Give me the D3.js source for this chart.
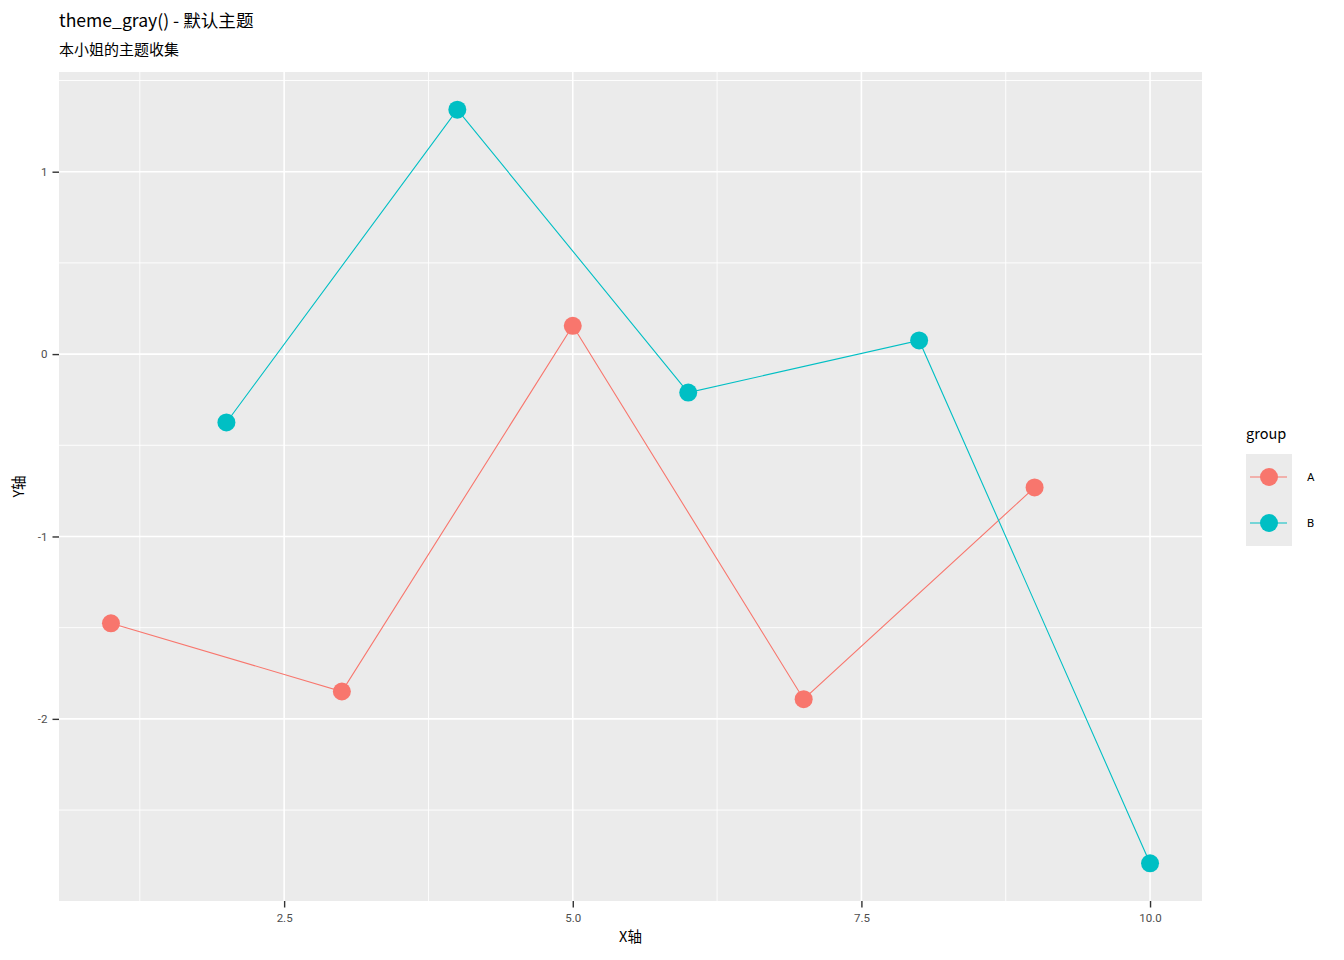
<!DOCTYPE html>
<html><head><meta charset="utf-8">
<script src="https://cdn.jsdelivr.net/npm/d3@7"></script>
<style>body{margin:0;background:#fff}text{font-family:"Noto Sans CJK SC","Noto Sans",sans-serif}</style>
</head><body><svg id="c" width="1344" height="960"></svg>
<script>
const groups = ["A","B"];
const colors = ["#F8766D","#00BFC4"];
const xA = [1,3,5,7,9];
const yA = [-1.476,-1.850,0.155,-1.892,-0.731];
const xB = [2,4,6,8,10];
const yB = [-0.375,1.340,-0.211,0.075,-2.792];
const xTicks = [2.5,5.0,7.5,10.0];
const yTicks = [-2,-1,0,1];
const title = "theme_gray() - 默认主题";
const subtitle = "本小姐的主题收集";
const xLabel = "X轴", yLabel = "Y轴", legendTitle = "group";

const svg = d3.select("#c");
const L=59,R=1202,T=72,B=901;
const allX = xA.concat(xB), allY = yA.concat(yB);
const xe = d3.extent(allX), ye = d3.extent(allY);
const xp = (xe[1]-xe[0])*0.05, yp=(ye[1]-ye[0])*0.05;
const x = d3.scaleLinear().domain([xe[0]-xp, xe[1]+xp]).range([L,R]);
const y = d3.scaleLinear().domain([ye[0]-yp, ye[1]+yp]).range([B,T]);

svg.append("rect").attr("x",L).attr("y",T).attr("width",R-L).attr("height",B-T).attr("fill","#EBEBEB");
// minor grid
const xMinor = xTicks.slice(0,-1).map((d,i)=>(d+xTicks[i+1])/2);
xMinor.unshift(xTicks[0]-1.25); xMinor.push(xTicks[xTicks.length-1]+1.25);
const yMinor = yTicks.slice(0,-1).map((d,i)=>(d+yTicks[i+1])/2);
yMinor.unshift(yTicks[0]-0.5); yMinor.push(yTicks[yTicks.length-1]+0.5);
const xd=x.domain(), yd=y.domain();
xMinor.filter(v=>v>=xd[0]&&v<=xd[1]).forEach(v=>svg.append("line").attr("x1",x(v)).attr("x2",x(v)).attr("y1",T).attr("y2",B).attr("stroke","#fff").attr("stroke-width",0.9));
yMinor.filter(v=>v>=yd[0]&&v<=yd[1]).forEach(v=>svg.append("line").attr("y1",y(v)).attr("y2",y(v)).attr("x1",L).attr("x2",R).attr("stroke","#fff").attr("stroke-width",0.9));
xTicks.forEach(v=>svg.append("line").attr("x1",x(v)).attr("x2",x(v)).attr("y1",T).attr("y2",B).attr("stroke","#fff").attr("stroke-width",1.6));
yTicks.forEach(v=>svg.append("line").attr("y1",y(v)).attr("y2",y(v)).attr("x1",L).attr("x2",R).attr("stroke","#fff").attr("stroke-width",1.6));

// axes
const tickFont = "Roboto, Liberation Sans, Arial, sans-serif";
const xAxis = d3.axisBottom(x).tickValues(xTicks).tickFormat(d=>d.toFixed(1)).tickSize(6.5).tickPadding(6);
const gx = svg.append("g").attr("transform",`translate(0,${B})`).call(xAxis);
gx.select(".domain").remove();
gx.selectAll("line").attr("stroke","#333").attr("stroke-width",1.4);
gx.selectAll("text").attr("fill","#4D4D4D").style("font-size","11.5px").style("font-family",tickFont);
const yAxis = d3.axisLeft(y).tickValues(yTicks).tickFormat(d=>String(d).replace("\u2212","-")).tickSize(6.5).tickPadding(5);
const gy = svg.append("g").attr("transform",`translate(${L},0)`).call(yAxis);
gy.select(".domain").remove();
gy.selectAll("line").attr("stroke","#333").attr("stroke-width",1.4);
gy.selectAll("text").attr("fill","#4D4D4D").style("font-size","11.5px").style("font-family",tickFont);

// series
const series = [{g:groups[0],xs:xA,ys:yA,c:colors[0]},{g:groups[1],xs:xB,ys:yB,c:colors[1]}];
const line = d3.line().x(d=>x(d[0])).y(d=>y(d[1]));
series.forEach(s=>{
  const pts = s.xs.map((v,i)=>[v,s.ys[i]]);
  svg.append("path").datum(pts).attr("d",line).attr("fill","none").attr("stroke",s.c).attr("stroke-width",1.1);
});
series.forEach(s=>{
  const pts = s.xs.map((v,i)=>[v,s.ys[i]]);
  svg.selectAll(null).data(pts).enter().append("circle").attr("cx",d=>x(d[0])).attr("cy",d=>y(d[1])).attr("r",9).attr("fill",s.c);
});

// titles
svg.append("text").attr("x",L).attr("y",27).text(title).style("font-size","17.6px").attr("fill","#000");
svg.append("text").attr("x",L).attr("y",55).text(subtitle).style("font-size","15px").attr("fill","#000");
svg.append("text").attr("x",(L+R)/2).attr("y",942).attr("text-anchor","middle").text(xLabel).style("font-size","14.5px");
svg.append("text").attr("transform",`translate(24,${(T+B)/2}) rotate(-90)`).attr("text-anchor","middle").text(yLabel).style("font-size","14.5px");

// legend
svg.append("text").attr("x",1246).attr("y",439).text(legendTitle).style("font-size","14.5px");
const kx=1246, ky=454, ks=46;
series.forEach((s,i)=>{
  const cy = ky+i*ks+ks/2;
  svg.append("rect").attr("x",kx).attr("y",ky+i*ks).attr("width",46).attr("height",ks).attr("fill","#EBEBEB");
  svg.append("line").attr("x1",kx+4).attr("x2",kx+41).attr("y1",cy).attr("y2",cy).attr("stroke",s.c).attr("stroke-width",1.1);
  svg.append("circle").attr("cx",kx+23).attr("cy",cy).attr("r",9).attr("fill",s.c);
  svg.append("text").attr("x",1307).attr("y",cy+4).text(s.g).style("font-size","11.5px").style("font-family",tickFont);
});
</script></body></html>
